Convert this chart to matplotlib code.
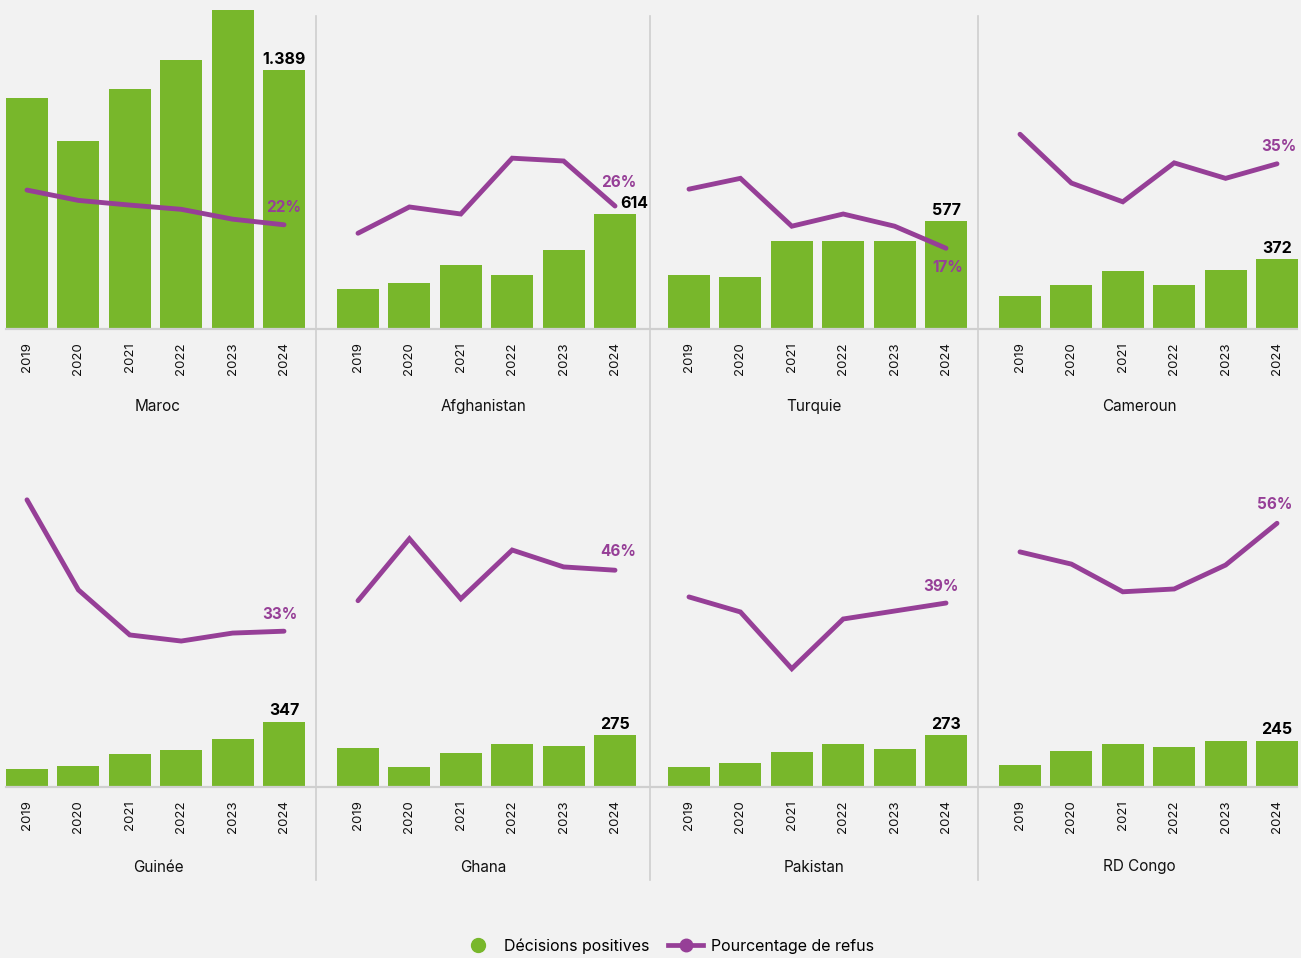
import matplotlib.pyplot as plt
from matplotlib.lines import Line2D

years = ["2019", "2020", "2021", "2022", "2023", "2024"]
countries = ["Maroc", "Afghanistan", "Turquie", "Cameroun",
             "Guinée", "Ghana", "Pakistan", "RD Congo"]

# décisions positives
maroc_pos = [1239, 1007, 1287, 1443, 1717, 1389]
afghanistan_pos = [210, 242, 339, 285, 419, 614]
turquie_pos = [285, 274, 468, 468, 468, 577]
cameroun_pos = [172, 231, 307, 231, 312, 372]
guinee_pos = [91, 108, 172, 194, 253, 347]
ghana_pos = [204, 102, 177, 226, 215, 275]
pakistan_pos = [102, 124, 183, 226, 199, 273]
rdcongo_pos = [113, 188, 226, 210, 241, 245]

# pourcentage de refus
maroc_ref = [29.4, 27.2, 26.2, 25.3, 23.2, 22]
afghanistan_ref = [20.2, 25.8, 24.3, 36.2, 35.6, 26]
turquie_ref = [29.6, 31.9, 21.7, 24.3, 21.7, 17]
cameroun_ref = [41.3, 30.9, 26.9, 35.2, 31.9, 35]
guinee_ref = [61.0, 41.8, 32.2, 30.9, 32.6, 33]
ghana_ref = [39.5, 52.7, 39.9, 50.3, 46.7, 46]
pakistan_ref = [40.3, 37.1, 25.0, 35.6, 37.3, 39]
rdcongo_ref = [49.9, 47.3, 41.4, 42.0, 47.1, 56]

positives = [maroc_pos, afghanistan_pos, turquie_pos, cameroun_pos,
             guinee_pos, ghana_pos, pakistan_pos, rdcongo_pos]
refus = [maroc_ref, afghanistan_ref, turquie_ref, cameroun_ref,
         guinee_ref, ghana_ref, pakistan_ref, rdcongo_ref]

GREEN = "#78b72b"
PURPLE = "#963f97"
GRID = "#cfcfcf"
BG = "#f2f2f2"

W, H = 1301, 958
plt.rcParams["font.family"] = ["Inter", "DejaVu Sans"]

fig = plt.figure(figsize=(W / 100, H / 100), dpi=100, facecolor=BG)

col_left = [6, 337, 668, 999]       # px, left edge of first bar
row_base = [328, 786]               # px, baseline of each row
panel_h = 319
panel_w = 299
dividers = [316, 650, 978]
name_x = [0] + dividers + [W]
name_y = [407, 867]

# label offsets (points) for the percentage labels and the value labels
pct_off = [(0, 9), (3, 13.5), (1, -17), (1, 9), (-3, 8.5), (2, 10), (-4, 9), (-2, 10)]
val_off = [(0, 4.5), (14, 4.5), (0, 4.5), (0, 4.5), (0, 4.5), (0, 4.5), (0, 4.5), (0, 4.5)]

x = list(range(len(years)))
for i, (name, pos, ref) in enumerate(zip(countries, positives, refus)):
    r, c = divmod(i, 4)
    left = col_left[c] / W
    bottom = 1 - row_base[r] / H
    ax = fig.add_axes([left, bottom, panel_w / W, panel_h / H])
    ax.set_facecolor("none")
    ax.bar(x, pos, width=0.817, color=GREEN, zorder=2)
    ax.set_xlim(-0.4085, 5.4085)
    ax.set_ylim(0, 1720)
    ax.set_yticks([])
    ax.set_xticks(x)
    ax.set_xticklabels(years, rotation=90, fontsize=9.5, color="#111111", va="top")
    ax.tick_params(axis="x", length=0, pad=10)
    for s in ax.spines.values():
        s.set_visible(False)
    last = pos[-1]
    ax.annotate(f"{last:,}".replace(",", "."), (x[-1], last),
                xytext=val_off[i], textcoords="offset points",
                ha="center", va="baseline", fontsize=11.5, fontweight="bold",
                color="black", zorder=5)

    ax2 = ax.twinx()
    ax2.set_ylim(0, 68)
    ax2.plot(x, ref, color=PURPLE, lw=3.5, solid_capstyle="round",
             solid_joinstyle="miter", zorder=3)
    ax2.set_yticks([])
    for s in ax2.spines.values():
        s.set_visible(False)
    ax2.annotate(f"{ref[-1]:.0f}%", (x[-1], ref[-1]),
                 xytext=pct_off[i], textcoords="offset points",
                 ha="center", va="baseline", fontsize=11, fontweight="bold",
                 color=PURPLE)

    fig.text((name_x[c] + name_x[c + 1]) / 2 / W, 1 - name_y[r] / H, name,
             ha="center", va="center", fontsize=11, color="#111111")

# baselines and dividers
for yb in row_base:
    fig.add_artist(Line2D([6 / W, 1297 / W], [1 - (yb + 1) / H] * 2,
                          color=GRID, lw=1.6, zorder=1))
for xd in dividers:
    fig.add_artist(Line2D([xd / W] * 2, [1 - 16 / H, 1 - 880 / H],
                          color=GRID, lw=1.2, zorder=1))

handles = [
    Line2D([], [], color=GREEN, marker="o", ls="none", markersize=10),
    Line2D([], [], color=PURPLE, marker="o", lw=3.4, markersize=9),
]
fig.legend(handles, ["Décisions positives", "Pourcentage de refus"],
           loc="center", bbox_to_anchor=(0.513, 1 - 946 / H), ncol=2,
           frameon=False, fontsize=11.5, handlelength=2.2, handletextpad=0.5,
           columnspacing=1.2)

fig.savefig("out.png", dpi=100, facecolor=BG)
